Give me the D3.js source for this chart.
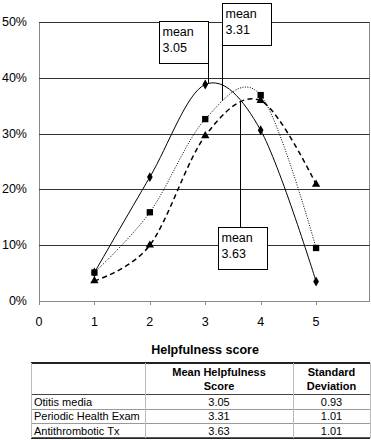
<!DOCTYPE html>
<html>
<head>
<meta charset="utf-8">
<script src="https://cdn.jsdelivr.net/npm/d3@7"></script>
<style>
  body { margin: 0; background: #fff; }
  svg { font-family: Arial, "Liberation Sans", sans-serif; }
</style>
</head>
<body>
<svg id="chart" width="371" height="440"></svg>
<script>
// data
const scores = [1, 2, 3, 4, 5]
const otitis = [5.1, 22.2, 38.8, 30.6, 3.5]
const periodic = [5.1, 15.9, 32.6, 36.9, 9.5]
const antithrombotic = [3.6, 10.0, 29.6, 35.9, 20.9]
const seriesNames = ['Otitis media', 'Periodic Health Exam', 'Antithrombotic Tx']
const means = [3.05, 3.31, 3.63]
const stdDevs = [0.93, 1.01, 1.01]
const xTicks = [0, 1, 2, 3, 4, 5]
const yTicks = [0, 10, 20, 30, 40, 50]

const svg = d3.select('#chart')

const plotLeft = 39, plotRight = 369, plotTop = 22, plotBottom = 301

var x = d3.scaleLinear().domain([0, 6]).range([plotLeft, 371.5])
var y = d3.scaleLinear().domain([0, 50]).range([plotBottom, plotTop])

// plot frame
svg.append('rect')
    .attr('x', plotLeft + 0.5).attr('y', plotTop + 0.5)
    .attr('width', plotRight - plotLeft).attr('height', plotBottom - plotTop)
    .attr('fill', 'none').attr('stroke', '#888').attr('stroke-width', 1)

// gridlines
svg.append('g').selectAll('line')
    .data(yTicks.filter(d => d > 0))
    .enter().append('line')
    .attr('x1', plotLeft).attr('x2', plotRight + 0.5)
    .attr('y1', d => Math.round(y(d)) + 0.5).attr('y2', d => Math.round(y(d)) + 0.5)
    .attr('stroke', '#333').attr('stroke-width', 1)

// y labels
svg.append('g').selectAll('text')
    .data(yTicks)
    .enter().append('text')
    .attr('x', 27).attr('y', d => y(d) + 4)
    .attr('text-anchor', 'end')
    .attr('font-size', 12.5)
    .text(d => d + '%')

// x ticks & labels
svg.append('g').selectAll('line')
    .data(xTicks)
    .enter().append('line')
    .attr('x1', d => Math.round(x(d)) + 0.5).attr('x2', d => Math.round(x(d)) + 0.5)
    .attr('y1', plotBottom).attr('y2', plotBottom + 4)
    .attr('stroke', '#888')

svg.append('g').selectAll('text')
    .data(xTicks)
    .enter().append('text')
    .attr('x', d => x(d)).attr('y', 326)
    .attr('text-anchor', 'middle')
    .attr('font-size', 12.5)
    .text(d => d)

svg.append('text')
    .attr('x', 205).attr('y', 354)
    .attr('text-anchor', 'middle')
    .attr('font-size', 12.5).attr('font-weight', 'bold')
    .text('Helpfulness score')

// curves
const series = [
    { values: otitis, dash: null, width: 1, symbol: d3.symbolDiamond, size: 28 },
    { values: periodic, dash: '1,1.5', width: 1, symbol: d3.symbolSquare, size: 40 },
    { values: antithrombotic, dash: '5,3.5', width: 1.5, symbol: d3.symbolTriangle, size: 30 }
]

const line = d3.line()
    .x((d, i) => x(scores[i]))
    .y(d => y(d))
    .curve(d3.curveCardinal.tension(0))

var paths = []
series.forEach(s => {
    var p = svg.append('path')
        .datum(s.values)
        .attr('d', line)
        .attr('fill', 'none')
        .attr('stroke', '#000')
        .attr('stroke-width', s.width)
        .attr('stroke-dasharray', s.dash)
    paths.push(p.node())

    svg.append('g').selectAll('path')
        .data(s.values)
        .enter().append('path')
        .attr('d', d3.symbol().type(s.symbol).size(s.size))
        .attr('transform', (d, i) => 'translate(' + x(scores[i]) + ',' + y(d) + ')')
        .attr('fill', '#000')
})

// y on a curve at a given x
function curveY(node, px) {
    var lo = 0, hi = node.getTotalLength()
    for (var k = 0; k < 40; k++) {
        var mid = (lo + hi) / 2
        if (node.getPointAtLength(mid).x < px) lo = mid; else hi = mid
    }
    return node.getPointAtLength(lo).y
}

// mean callouts
const boxW = 49, boxH = 42
const callouts = [
    { bx: -boxW, by: 21, above: true },   // box left of line
    { bx: 0, by: 3, above: true },        // box right of line
    { bx: -22, by: 227, above: false }    // box below curve
]

means.forEach((m, i) => {
    var lx = Math.round(x(m)) + 0.5
    var cy = curveY(paths[i], x(m))
    var c = callouts[i]
    svg.append('line').attr('x1', lx).attr('x2', lx)
        .attr('y1', c.above ? c.by + boxH : c.by).attr('y2', cy)
        .attr('stroke', '#000')
    var bx = lx + c.bx
    svg.append('rect')
        .attr('x', bx).attr('y', c.by + 0.5)
        .attr('width', boxW).attr('height', boxH)
        .attr('fill', '#fff').attr('stroke', '#000')
    svg.append('text').attr('x', bx + 3).attr('y', c.by + 15)
        .attr('font-size', 12.5).text('mean')
    svg.append('text').attr('x', bx + 3).attr('y', c.by + 31)
        .attr('font-size', 12.5).text(m.toFixed(2))
})

// table
const tLeft = 31, tRight = 370, col1 = 145, col2 = 293
const tTop = 363, headH = 31, rowH = 14.7
const tg = svg.append('g').attr('font-size', 11)

var rowLines = d3.range(1, seriesNames.length).map(i => tTop + headH + i * rowH)
tg.selectAll('.hl').data(rowLines).enter().append('line')
    .attr('x1', tLeft).attr('x2', tRight)
    .attr('y1', d => Math.round(d) + 0.5).attr('y2', d => Math.round(d) + 0.5)
    .attr('stroke', '#999')
tg.append('line').attr('x1', tLeft).attr('x2', tRight)
    .attr('y1', tTop + headH + 0.5).attr('y2', tTop + headH + 0.5)
    .attr('stroke', '#444').attr('stroke-width', 1.2)
var tBottom = tTop + headH + seriesNames.length * rowH
;[tTop, tBottom].forEach(v => {
    tg.append('line').attr('x1', tLeft).attr('x2', tRight)
        .attr('y1', v).attr('y2', v)
        .attr('stroke', '#222').attr('stroke-width', 1.8)
})
;[tLeft, col1, col2, tRight].forEach(v => {
    tg.append('line').attr('x1', v + 0.5).attr('x2', v + 0.5)
        .attr('y1', tTop).attr('y2', tBottom)
        .attr('stroke', '#bbb')
})

tg.append('text').attr('x', (col1 + col2) / 2).attr('y', tTop + 13)
    .attr('text-anchor', 'middle').attr('font-weight', 'bold').text('Mean Helpfulness')
tg.append('text').attr('x', (col1 + col2) / 2).attr('y', tTop + 27)
    .attr('text-anchor', 'middle').attr('font-weight', 'bold').text('Score')
tg.append('text').attr('x', (col2 + tRight) / 2).attr('y', tTop + 13)
    .attr('text-anchor', 'middle').attr('font-weight', 'bold').text('Standard')
tg.append('text').attr('x', (col2 + tRight) / 2).attr('y', tTop + 27)
    .attr('text-anchor', 'middle').attr('font-weight', 'bold').text('Deviation')

seriesNames.forEach((n, i) => {
    var ty = tTop + headH + i * rowH + 11.5
    tg.append('text').attr('x', tLeft + 3).attr('y', ty).text(n)
    tg.append('text').attr('x', (col1 + col2) / 2).attr('y', ty)
        .attr('text-anchor', 'middle').text(means[i].toFixed(2))
    tg.append('text').attr('x', (col2 + tRight) / 2).attr('y', ty)
        .attr('text-anchor', 'middle').text(stdDevs[i].toFixed(2))
})
</script>
</body>
</html>
